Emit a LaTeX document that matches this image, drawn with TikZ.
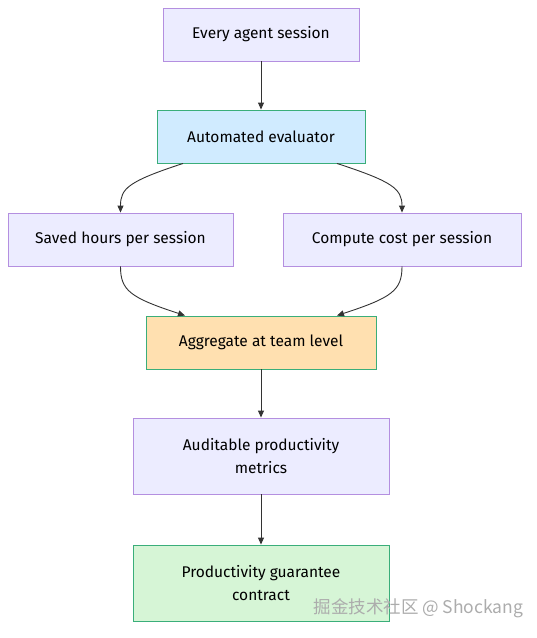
\documentclass[tikz,border=0pt]{standalone}
\usepackage{fontspec}
\setmainfont{Fira Sans}
\newfontfamily\cjkfont{Noto Sans CJK SC}
\usetikzlibrary{arrows.meta}

\definecolor{lavfill}{HTML}{ECECFF}
\definecolor{lavline}{HTML}{B48FE0}
\definecolor{bluefill}{HTML}{D0EBFF}
\definecolor{orangefill}{HTML}{FFE0B0}
\definecolor{greenfill}{HTML}{D6F5D6}
\definecolor{greenline}{HTML}{3AAE7A}
\definecolor{arrowgray}{HTML}{333333}

\begin{document}
\begin{tikzpicture}[x=1pt,y=-1pt,
    box/.style={draw=lavline, fill=lavfill, line width=0.9pt, inner sep=0pt,
                align=center, font=\fontsize{15.5}{23}\selectfont},
    greenbox/.style={box, draw=greenline},
    flow/.style={draw=arrowgray, line width=0.9pt, -{Triangle[length=7pt,width=6pt]}}]
    \useasboundingbox (0,0) rectangle (537,638);

    \node[box, minimum width=196pt, minimum height=53pt] (session) at (261,34.5) {Every agent session};
    \node[greenbox, fill=bluefill, minimum width=208pt, minimum height=53pt] (eval) at (261,136.5) {Automated evaluator};
    \node[box, minimum width=225pt, minimum height=53pt] (saved) at (120.5,239.5) {Saved hours per session};
    \node[box, minimum width=238pt, minimum height=53pt] (cost) at (402,239.5) {Compute cost per session};
    \node[greenbox, fill=orangefill, minimum width=230pt, minimum height=53pt] (team) at (261,342.5) {Aggregate at team level};
    \node[box, minimum width=256pt, minimum height=76pt] (metrics) at (261,456) {Auditable productivity\\metrics};
    \node[greenbox, fill=greenfill, minimum width=256pt, minimum height=76pt] (contract) at (261,583) {Productivity guarantee\\contract};

    \path[flow] (session) -- (eval);
    \path[flow] ([xshift=-78pt]eval.south) .. controls +(-55,18) and +(0,-24) .. (saved.north);
    \path[flow] ([xshift=76pt]eval.south) .. controls +(55,18) and +(0,-24) .. (cost.north);
    \path[flow] (saved.south) .. controls +(0,24) and +(-55,-18) .. ([xshift=-76pt]team.north);
    \path[flow] (cost.south) .. controls +(0,24) and +(55,-18) .. ([xshift=76pt]team.north);
    \path[flow] (team) -- (metrics);
    \path[flow] (metrics) -- (contract);

    % watermark
    \node[text=gray!65, anchor=west, font=\cjkfont\fontsize{17.5}{19}\selectfont] (mark) at (310,608) {掘金技术社区 @ Shockang};
\end{tikzpicture}
\end{document}
